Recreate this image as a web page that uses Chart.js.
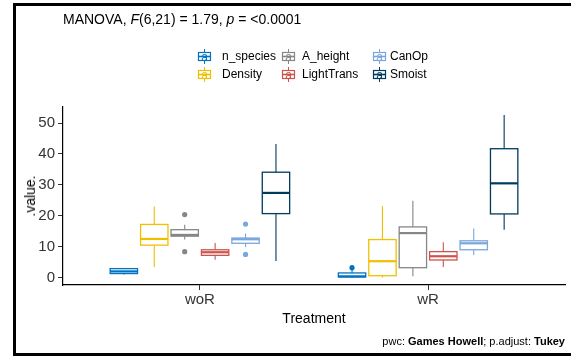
<!DOCTYPE html>
<html>
<head>
<meta charset="utf-8">
<script src="https://cdn.jsdelivr.net/npm/chart.js@4.4.0/dist/chart.umd.min.js"></script>
<style>
  html, body { margin:0; padding:0; background:#fff; }
  body { width:571px; height:356px; position:relative; overflow:hidden; font-family:"Liberation Sans", Arial, sans-serif; }
  #frame { position:absolute; left:13px; top:3px; width:600px; height:347px; border:3px solid #000; box-sizing:content-box; pointer-events:none; }
  #c { position:absolute; left:0; top:0; }
  .txt { position:absolute; white-space:nowrap; color:#000; }
  #title { left:63px; top:11px; font-size:14px; line-height:16px; }
  #ytitle { left:30px; top:196px; font-size:14px; line-height:16px; transform:translate(-50%,-50%) rotate(-90deg); color:#000; }
  #xtitle { left:314px; top:318px; font-size:14px; line-height:16px; transform:translate(-50%,-50%); }
  #caption { right:6px; top:341px; font-size:11px; line-height:13px; transform:translateY(-50%); }
  .lkey { position:absolute; width:17px; height:17px; }
  .ltext { position:absolute; font-size:12px; line-height:14px; color:#000; }
</style>
</head>
<body>
<canvas id="c" width="571" height="356"></canvas>
<div id="title" class="txt">MANOVA, <i>F</i>(6,21) = 1.79, <i>p</i> = &lt;0.0001</div>
<div id="ytitle" class="txt">.value.</div>
<div id="xtitle" class="txt">Treatment</div>
<div id="caption" class="txt">pwc: <b>Games Howell</b>; p.adjust: <b>Tukey</b></div>
<div id="legend"></div>
<div id="frame"></div>
<script>
// ---- data ----
const categories = ['woR', 'wR'];
const seriesNames = ['n_species', 'Density', 'A_height', 'LightTrans', 'CanOp', 'Smoist'];
const seriesColors = ['#0073C2', '#EFC000', '#868686', '#CD534C', '#7AA6DC', '#003B5C'];
const yTicks = [0, 10, 20, 30, 40, 50];
// each entry: [min, q1, median, q3, max] for woR, wR
const nSpecies   = [[1.0, 1.3, 2.0, 2.9, 3.1], [0.0, 0.2, 0.4, 1.5, 2.9]];
const density    = [[3.4, 10.5, 12.5, 17.2, 23.0], [0.0, 0.6, 5.3, 12.3, 23.2]];
const aHeight    = [[12.3, 13.4, 13.8, 15.5, 17.1], [0.4, 3.2, 14.4, 16.4, 24.9]];
const lightTrans = [[5.8, 7.2, 8.2, 9.0, 11.2], [3.4, 5.7, 6.9, 8.4, 11.4]];
const canOp      = [[9.9, 11.1, 12.4, 12.8, 14.3], [7.3, 9.0, 11.1, 11.9, 15.9]];
const smoist     = [[5.4, 20.7, 27.4, 34.1, 43.2], [15.5, 20.6, 30.5, 41.7, 52.6]];
// outliers per category
const nSpeciesOut   = [[], [3.2]];
const densityOut    = [[], []];
const aHeightOut    = [[20.4, 8.4], []];
const lightTransOut = [[], []];
const canOpOut      = [[17.3, 7.5], []];
const smoistOut     = [[], []];

const boxData = [nSpecies, density, aHeight, lightTrans, canOp, smoist];
const outData = [nSpeciesOut, densityOut, aHeightOut, lightTransOut, canOpOut, smoistOut];

const nS = seriesNames.length;
const dodge = 0.8;
const slot = dodge / nS;
const boxHalf = slot * 0.9 / 2;
function xPos(ci, si) { return (ci + 1) + (si - (nS - 1) / 2) * slot; }

// ---- legend (HTML) ----
const legendCols = [[204, 222], [288, 302], [379, 390]];
const legendRows = [56, 74];
const leg = document.getElementById('legend');
seriesNames.forEach((name, i) => {
  const col = Math.floor(i / 2), row = i % 2;
  const [kx, tx] = legendCols[col];
  const cy = legendRows[row];
  const c = seriesColors[i];
  const key = document.createElement('div');
  key.className = 'lkey';
  key.style.left = (kx - 8.5) + 'px';
  key.style.top = (cy - 8.5) + 'px';
  key.innerHTML = `<svg width="17" height="17" viewBox="0 0 17 17">
    <line x1="8.5" y1="1" x2="8.5" y2="16" stroke="${c}" stroke-width="1"/>
    <rect x="2.5" y="4.5" width="12" height="8" fill="#fff" stroke="${c}" stroke-width="1.2"/>
    <line x1="2.5" y1="8.5" x2="14.5" y2="8.5" stroke="${c}" stroke-width="1.6"/>
    <text x="8.5" y="12.5" text-anchor="middle" font-family="Liberation Sans, Arial" font-size="12" fill="${c}">a</text>
  </svg>`;
  leg.appendChild(key);
  const t = document.createElement('div');
  t.className = 'ltext';
  t.textContent = name;
  t.style.left = tx + 'px';
  t.style.top = (cy - 7) + 'px';
  leg.appendChild(t);
});

// ---- boxplot plugin ----
const boxPlugin = {
  id: 'boxes',
  beforeDatasetsDraw(chart) {
    const {ctx, scales: {x, y}} = chart;
    ctx.save();
    boxData.forEach((series, si) => {
      const col = seriesColors[si];
      series.forEach((st, ci) => {
        const [mn, q1, md, q3, mx] = st;
        const xc = x.getPixelForValue(xPos(ci, si));
        const xl = x.getPixelForValue(xPos(ci, si) - boxHalf);
        const xr = x.getPixelForValue(xPos(ci, si) + boxHalf);
        const yMn = y.getPixelForValue(mn), yQ1 = y.getPixelForValue(q1);
        const yMd = y.getPixelForValue(md), yQ3 = y.getPixelForValue(q3);
        const yMx = y.getPixelForValue(mx);
        ctx.strokeStyle = col;
        ctx.lineWidth = 1.1;
        ctx.beginPath();
        ctx.moveTo(xc, yMx); ctx.lineTo(xc, yQ3);
        ctx.moveTo(xc, yQ1); ctx.lineTo(xc, yMn);
        ctx.stroke();
        ctx.fillStyle = '#fff';
        ctx.fillRect(xl, yQ3, xr - xl, yQ1 - yQ3);
        ctx.lineWidth = 1.3;
        ctx.strokeRect(xl, yQ3, xr - xl, yQ1 - yQ3);
        ctx.lineWidth = 2.2;
        ctx.beginPath();
        ctx.moveTo(xl, yMd); ctx.lineTo(xr, yMd);
        ctx.stroke();
      });
    });
    ctx.restore();
  }
};

const datasets = outData.map((series, si) => ({
  label: seriesNames[si],
  data: series.flatMap((vals, ci) => vals.map(v => ({x: xPos(ci, si), y: v}))),
  backgroundColor: seriesColors[si],
  borderColor: seriesColors[si],
  pointRadius: 2.6,
  pointBorderWidth: 0,
  pointHoverRadius: 2.6
}));

new Chart(document.getElementById('c'), {
  type: 'scatter',
  data: { datasets },
  options: {
    responsive: false,
    animation: false,
    events: [],
    layout: { padding: { top: 107, right: 6, left: 0, bottom: 0 } },
    plugins: { legend: { display: false }, tooltip: { enabled: false } },
    scales: {
      x: {
        type: 'linear', min: 0.4, max: 2.6,
        afterBuildTicks: s => { s.ticks = categories.map((c, i) => ({ value: i + 1 })); },
        afterFit: s => { s.height = 71; },
        ticks: { callback: v => categories[v - 1], color: '#333', font: { family: 'Liberation Sans', size: 15 }, padding: 1, maxRotation: 0, autoSkip: false },
        grid: { drawOnChartArea: false, drawTicks: true, tickLength: 5, color: '#333', lineWidth: 1 },
        border: { display: true, color: '#000', width: 1.2 }
      },
      y: {
        type: 'linear', min: -2.4, max: 55.2,
        afterBuildTicks: s => { s.ticks = yTicks.map(v => ({ value: v })); },
        afterFit: s => { s.width = 63; },
        ticks: { color: '#333', font: { family: 'Liberation Sans', size: 15 }, padding: 3 },
        grid: { drawOnChartArea: false, drawTicks: true, tickLength: 5, color: '#333', lineWidth: 1 },
        border: { display: true, color: '#000', width: 1.2 }
      }
    }
  },
  plugins: [boxPlugin, { id: 'bg', beforeDraw(ch) { const c = ch.ctx; c.save(); c.fillStyle = '#fff'; c.fillRect(0, 0, ch.width, ch.height); c.restore(); } }]
});
</script>
</body>
</html>
